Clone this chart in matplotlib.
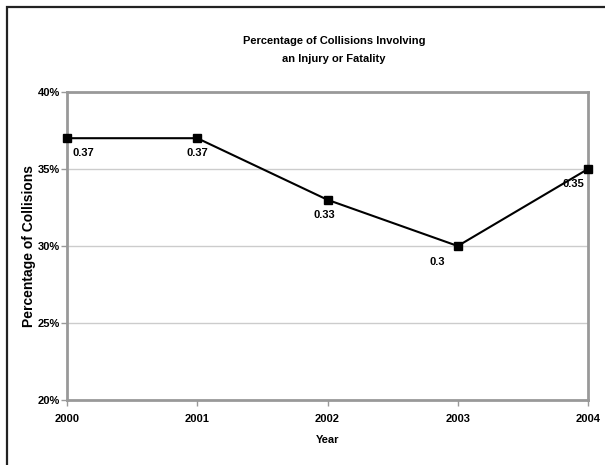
import matplotlib
matplotlib.use("Agg")
import matplotlib.pyplot as plt
from matplotlib.patches import Rectangle
from matplotlib.ticker import FuncFormatter

years = [2000, 2001, 2002, 2003, 2004]
share = [0.37, 0.37, 0.33, 0.30, 0.35]
value_labels = ["0.37", "0.37", "0.33", "0.3", "0.35"]
# where each value label sits relative to its point (pixels)
label_offsets = [(16, -15), (0, -15), (-3, -15), (-20, -16), (-15, -15)]

plt.rcParams["font.family"] = ["Liberation Sans", "DejaVu Sans"]
plt.rcParams["font.weight"] = "bold"

fig = plt.figure(figsize=(6.05, 4.65), dpi=100)
W, H = 605, 465
ax = fig.add_axes([67 / W, 1 - 400 / H, (588 - 67) / W, (400 - 92) / H])

# chart border, runs off the right and bottom edges
fig.patches.append(Rectangle((7 / W, -0.1), 1.2, 1 - 7 / H + 0.1,
                             transform=fig.transFigure, fill=False,
                             edgecolor="#222222", linewidth=1.6))

ax.plot(years, share, color="black", linewidth=1.5, marker="s",
        markersize=6, markerfacecolor="black", zorder=3, clip_on=False)

for x, y, txt, off in zip(years, share, value_labels, label_offsets):
    ax.annotate(txt, (x, y), xytext=off, textcoords="offset pixels",
                ha="center", va="center", fontsize=8, fontweight="bold")

ax.set_xlim(2000, 2004)
ax.set_ylim(0.20, 0.40)
ax.set_xticks(years)
ax.set_yticks([0.20, 0.25, 0.30, 0.35, 0.40])
ax.yaxis.set_major_formatter(FuncFormatter(lambda v, p: f"{v * 100:.0f}%"))
ax.grid(axis="y", color="#cccccc", linewidth=1)
ax.set_axisbelow(True)
for s in ax.spines.values():
    s.set_color("#999999")
    s.set_linewidth(2)
ax.tick_params(colors="#999999", length=4, width=1, labelcolor="black",
               labelsize=8)
ax.tick_params(axis="x", pad=6)
ax.tick_params(axis="y", pad=1)

ax.set_xlabel("Year", fontsize=8, fontweight="bold", labelpad=8)
ax.set_ylabel("Percentage of Collisions", fontsize=10, fontweight="bold",
              labelpad=1)

fig.text(334 / W, 1 - 50 / H,
         "Percentage of Collisions Involving\nan Injury or Fatality",
         ha="center", va="center", fontsize=8, fontweight="bold",
         linespacing=2.1)

fig.savefig("out.png", dpi=100)
